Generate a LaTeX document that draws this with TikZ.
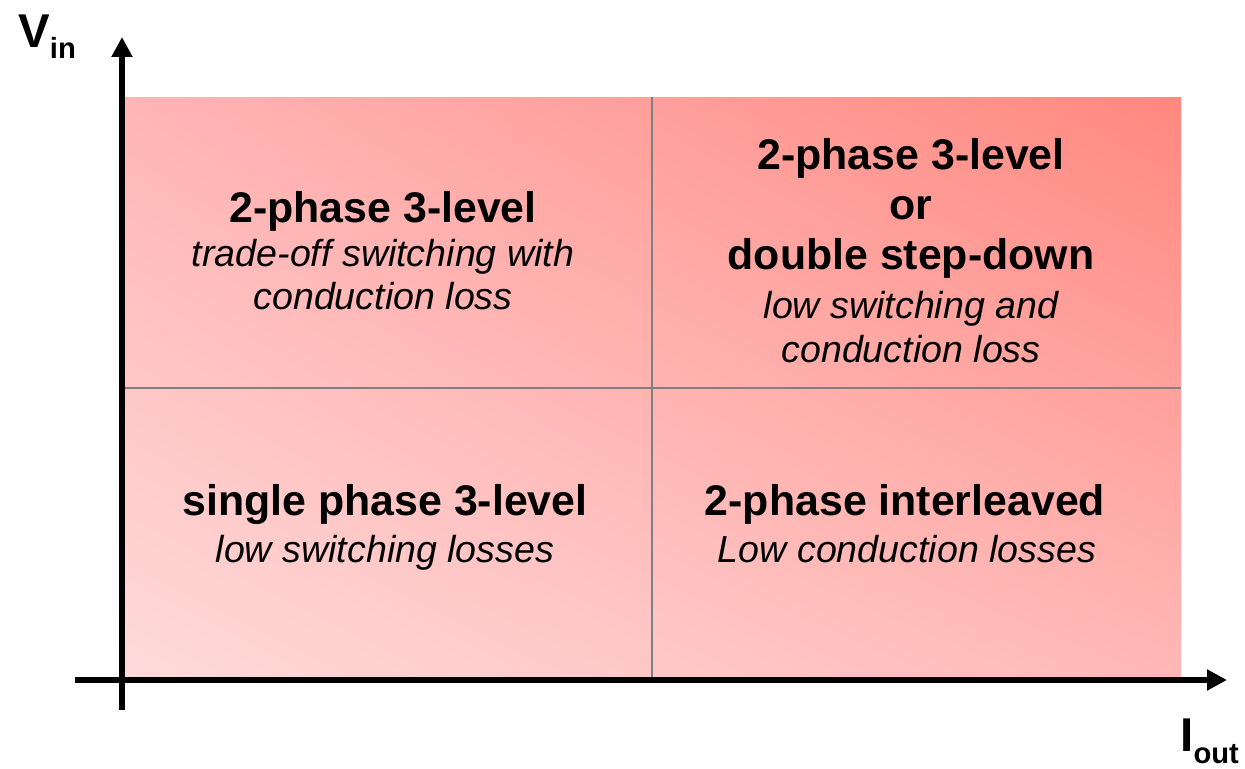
\documentclass[tikz,border=0pt]{standalone}
\usepackage{fontspec}
\setmainfont{Liberation Sans}
\usetikzlibrary{arrows.meta,shadings}
\definecolor{cLL}{HTML}{FFDADA}
\definecolor{cUR}{HTML}{FF8880}
\definecolor{cUL}{HTML}{FFB5B5}
\definecolor{cLR}{HTML}{FFB8B6}
\definecolor{divgray}{HTML}{808080}
\newcommand\hfnt{\fontsize{24.4pt}{28pt}\selectfont\bfseries}
\newcommand\ifnt{\fontsize{21.4pt}{25pt}\selectfont\itshape}
\newcommand\axfnt{\fontsize{27pt}{30pt}\selectfont\bfseries}
\newcommand\subfnt{\fontsize{16.6pt}{18pt}\selectfont\bfseries}
\begin{document}
\begin{tikzpicture}[x=0.02cm,y=-0.02cm,
  head/.style={anchor=base,inner sep=0pt,font=\hfnt},
  sub/.style={anchor=base,inner sep=0pt,font=\ifnt},
  axislabel/.style={anchor=base west,inner sep=0pt,font=\axfnt},
  axisline/.style={line width=0.12cm,-{Triangle[length=0.4cm,width=0.4cm]}},
  divider/.style={draw=divgray,line width=0.04cm}]
\useasboundingbox (0,0) rectangle (1245,768);
% shaded field
\shade[lower left=cLL,upper right=cUR,upper left=cUL,lower right=cLR] (125,97) rectangle (1181,680);
% dividers
\coordinate (vt) at (652,97);
\coordinate (vb) at (652,680);
\coordinate (hl) at (125,388);
\coordinate (hr) at (1181,388);
\draw[divider] (vt) -- (vb);
\draw[divider] (hl) -- (hr);
% axes
\coordinate (ystart) at (122,710);
\coordinate (yend) at (122,37);
\coordinate (xstart) at (75,680);
\coordinate (xend) at (1227,680);
\draw[axisline] (ystart) -- (yend);
\draw[axisline] (xstart) -- (xend);
% axis labels
\node[axislabel] (vin) at (18,47) {V\raisebox{-0.22cm}{\subfnt in}};
\node[axislabel] (iout) at (1180,751) {I\raisebox{-0.24cm}{\subfnt out}};
% top-left
\node[head] (tl1) at (383,222) {2-phase 3-level};
\node[sub] (tl2) at (383,266) {trade-off switching with};
\node[sub] (tl3) at (383,309) {conduction loss};
% top-right
\node[head] (tr1) at (911,169) {2-phase 3-level};
\node[head] (tr2) at (911,219) {or};
\node[head] (tr3) at (911,269) {double step-down};
\node[sub] (tr4) at (911,318) {low switching and};
\node[sub] (tr5) at (911,362) {conduction loss};
% bottom-left
\node[head] (bl1) at (385,515) {single phase 3-level};
\node[sub] (bl2) at (385,562) {low switching losses};
% bottom-right
\node[head] (br1) at (905,515) {2-phase interleaved};
\node[sub] (br2) at (907,562) {Low conduction losses};
\end{tikzpicture}
\end{document}
